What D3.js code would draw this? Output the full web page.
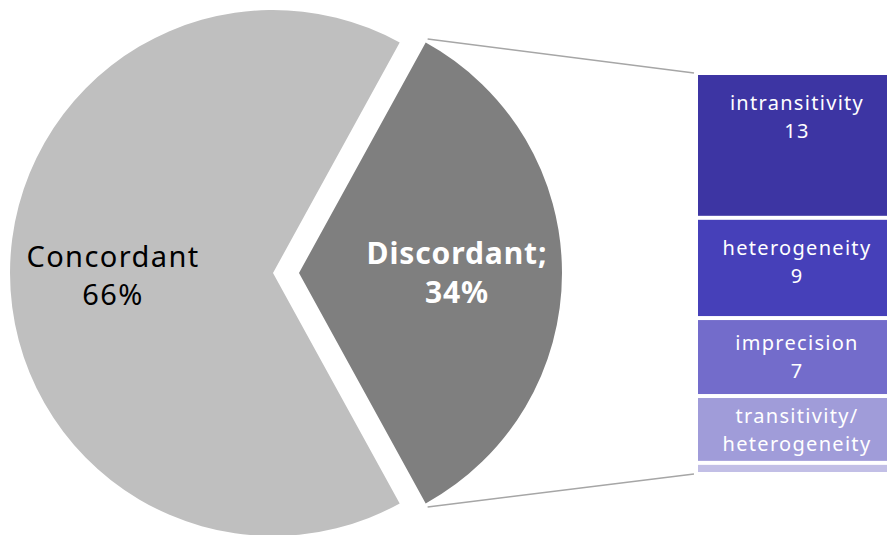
<!DOCTYPE html>
<html><head><meta charset="utf-8">
<script src="https://cdn.jsdelivr.net/npm/d3@7"></script>
<style>html,body{margin:0;padding:0;background:#fff;}svg{display:block;}</style>
</head><body>
<svg id="chart" width="887" height="535"></svg>
<script>
// ---- data ----
const pieCategories = ["Concordant", "Discordant"];
const pieShares = [66, 34];
const barCategories = ["intransitivity", "heterogeneity", "imprecision", "transitivity/\nheterogeneity", "other"];
const barValues = [13, 9, 7, 6, 1];
const barShowLabel = [true, true, true, true, false];

// ---- layout / style ----
const W = 887, H = 535;
const cx = 273, cy = 273, R = 263, explode = 26;
const pieColors = ["#bfbfbf", "#7f7f7f"];
const barColors = ["#3d35a3", "#4640b9", "#736ccb", "#a09cd9", "#c2bfe6"];
const barX0 = 698, barX1 = 890, barTop = 73, barBottom = 474;
const FONT = "'Noto Sans', 'Open Sans', sans-serif";

const svg = d3.select("#chart");
const total = d3.sum(pieShares);
const discFrac = pieShares[1] / total;
const start = Math.PI / 2 + discFrac * Math.PI;

const pie = d3.pie().sort(null).value(d => d).startAngle(start).endAngle(start + 2 * Math.PI);
const arcs = pie(pieShares);
const arc = d3.arc().innerRadius(0).outerRadius(R);

arcs.forEach((a, i) => {
  const mid = (a.startAngle + a.endAngle) / 2;
  const off = i === 1 ? explode : 0;
  const ox = cx + off * Math.sin(mid), oy = cy - off * Math.cos(mid);
  a.ox = ox; a.oy = oy;
  svg.append("path").attr("d", arc(a)).attr("transform", `translate(${ox},${oy})`)
    .attr("fill", pieColors[i]);
});

// bar scale
const barTotal = d3.sum(barValues);
const y = d3.scaleLinear().domain([0, barTotal]).range([barTop, barBottom]);
const cum = d3.cumsum(barValues);

// connector lines from discordant slice edges
const d = arcs[1];
const pt = ang => [d.ox + (R + 4) * Math.sin(ang), d.oy - (R + 4) * Math.cos(ang)];
const pTop = pt(d.endAngle), pBot = pt(d.startAngle);
const topP = pTop[1] < pBot[1] ? pTop : pBot;
const botP = pTop[1] < pBot[1] ? pBot : pTop;
svg.append("line").attr("x1", topP[0]).attr("y1", topP[1]).attr("x2", barX0 - 4).attr("y2", y(0))
  .attr("stroke", "#a6a6a6").attr("stroke-width", 1.6);
svg.append("line").attr("x1", botP[0]).attr("y1", botP[1]).attr("x2", barX0 - 4).attr("y2", y(barTotal))
  .attr("stroke", "#a6a6a6").attr("stroke-width", 1.6);

// pie labels
const conc = svg.append("text").attr("font-family", FONT).attr("font-size", 29)
  .attr("fill", "#000").attr("text-anchor", "middle").attr("letter-spacing", 1.4);
conc.append("tspan").attr("x", 113).attr("y", 267).text(pieCategories[0]);
conc.append("tspan").attr("x", 113).attr("y", 305).text(pieShares[0] + "%");

const disc = svg.append("text").attr("font-family", FONT).attr("font-size", 30)
  .attr("font-weight", "bold").attr("fill", "#fff").attr("text-anchor", "middle").attr("letter-spacing", 0.9);
disc.append("tspan").attr("x", 457).attr("y", 264).text(pieCategories[1] + ";");
disc.append("tspan").attr("x", 457).attr("y", 303).text(pieShares[1] + "%");

// bar segments
const defs = svg.append("defs");
barValues.forEach((v, i) => {
  const y0 = y(cum[i] - v), y1 = y(cum[i]);
  const top = y0 + 2, h = y1 - y0 - 4;
  svg.append("rect").attr("x", barX0).attr("y", top).attr("width", barX1 - barX0).attr("height", Math.max(h, 0))
    .attr("fill", barColors[i]);
  if (!barShowLabel[i]) return;
  const cid = "clip" + i;
  defs.append("clipPath").attr("id", cid).append("rect")
    .attr("x", barX0).attr("y", top).attr("width", barX1 - barX0).attr("height", h);
  const lines = barCategories[i].split("\n").concat([String(v)]);
  const first = top + Math.min(35, h * 0.4);
  const t = svg.append("text").attr("clip-path", `url(#${cid})`)
    .attr("font-family", FONT).attr("font-size", 20).attr("letter-spacing", 1.3)
    .attr("fill", "#fff").attr("text-anchor", "middle");
  lines.forEach((ln, k) => {
    t.append("tspan").attr("x", 797).attr("y", first + k * 28).text(ln);
  });
});
</script>
</body></html>
